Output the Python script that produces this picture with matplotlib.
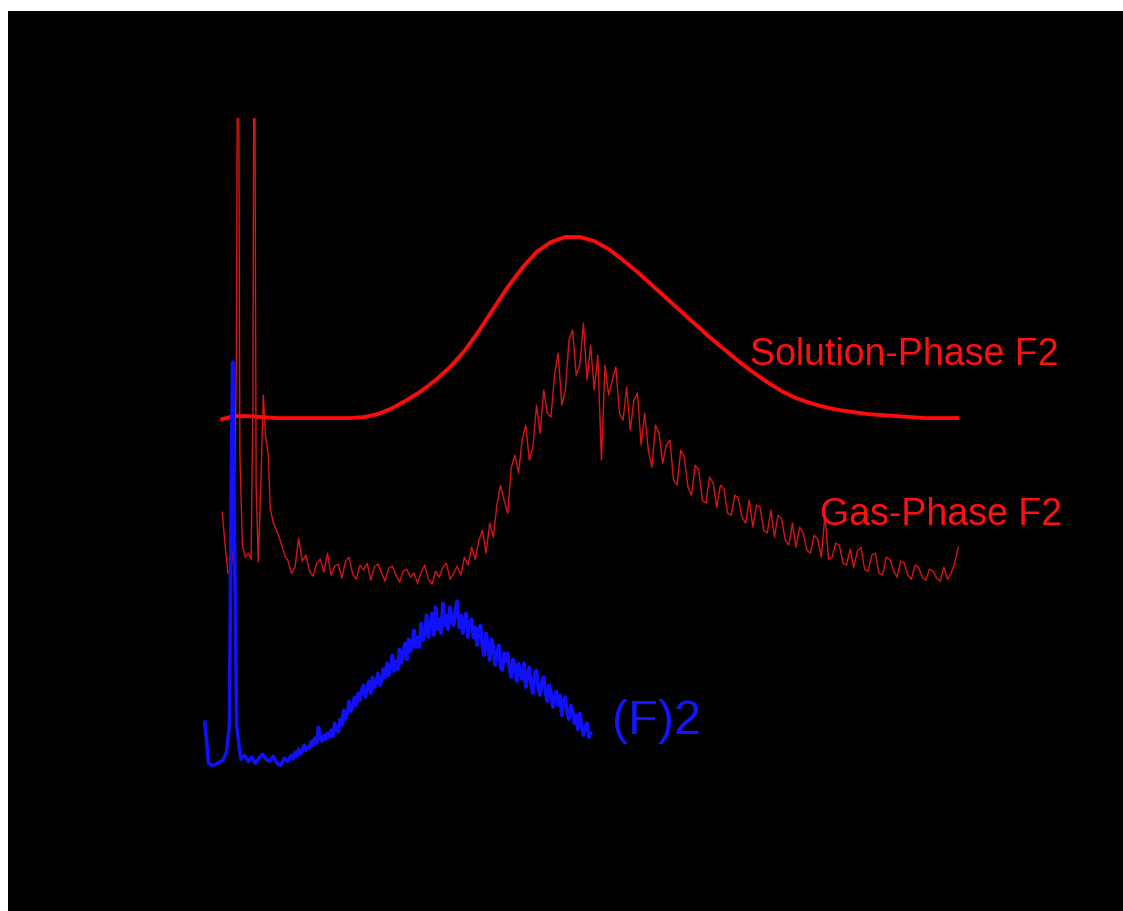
import numpy as np
import matplotlib
matplotlib.use("Agg")
import matplotlib.pyplot as plt
from matplotlib.patches import Rectangle

plt.rcParams['font.family'] = ['Liberation Sans', 'DejaVu Sans']

# ------------------------------------------------------------------------------------- #
# data (intensity in arbitrary units)
sol_nm = [300.8, 304, 308, 312, 316, 320, 324, 328, 332, 336, 340, 344, 348, 352, 356,
          360, 364, 368, 372, 376, 380, 384, 388, 392, 396, 400, 404, 408, 412, 416,
          420, 424, 428, 432, 436, 440, 444, 448, 452, 456, 460, 464, 468, 472, 476,
          480, 484, 488, 492, 496, 500, 504.7]
sol_int = [366, 369, 369, 368, 367, 367, 367, 367, 367, 367, 368, 371, 377, 385, 394,
           405, 418, 434, 454, 476, 498, 517, 533, 543, 548, 548, 544, 536, 525, 513,
           500, 487, 474, 461, 448, 436, 424, 413, 403, 394, 387, 382, 378, 375, 373,
           371, 370, 369, 368, 367, 367, 367]

gas_nm_start = [300.8, 301.6, 302.4, 303.2, 304.0, 304.7, 305.2, 305.7, 306.4, 307.2,
                308.0, 308.8, 309.3, 309.7, 310.2, 310.8, 311.5, 312.2, 312.8, 313.6,
                314.1, 315.0, 316.3, 317.5, 318.3]
gas_int_start = [273, 240, 212, 215, 240, 420, 900, 330, 240, 228,
                 232, 226, 380, 900, 300, 223, 300, 390, 350, 329,
                 277, 262, 251, 238, 228]
gas_nm_rest = np.arange(319, 506)
gas_int_rest = [225, 212, 218, 247, 224, 230, 214, 209, 222, 226,
                213, 232, 210, 219, 221, 207, 224, 228, 211, 206,
                220, 215, 222, 205, 218, 221, 212, 204, 217, 219,
                210, 203, 214, 216, 208, 212, 202, 213, 220, 206,
                201, 214, 208, 218, 222, 206, 212, 219, 210, 228,
                220, 238,
                226, 245, 255, 232, 262, 248, 280, 300, 285, 272,
                318, 330, 312, 345, 360, 325, 338, 380, 352, 395,
                372, 368, 410, 432, 380, 395, 445, 455, 410, 420,
                462, 405, 440, 395,
                430, 325, 420, 390, 405, 418, 372, 365, 398, 355,
                385, 392, 340, 372, 335, 318, 360, 352, 322, 340,
                345, 305, 300, 335, 328, 298, 290, 320, 315, 285,
                282, 308, 302, 278, 300, 296, 272, 270, 290, 287,
                268, 262, 285, 258, 280, 278, 255, 252, 275, 248,
                270, 266, 245, 240, 262, 238, 258, 252, 235, 232,
                250, 246, 228, 270, 226, 228, 242, 240, 222, 220,
                236, 218, 234, 238, 216, 214, 230, 232, 212, 210,
                228, 226, 215, 208, 224, 222, 210, 206, 220, 218,
                208, 205, 216, 214, 207, 204, 218, 206, 212, 222,
                238]

blue_nm_start = [296, 297, 298, 299, 300, 301, 302, 302.8, 303.3, 303.7, 304.2, 304.8,
                 305.5, 306]
blue_int_start = [63, 22, 20, 21, 23, 25, 33, 60, 300, 423, 250, 60, 38, 26]
blue_nm_mid = np.arange(307, 320)
blue_int_mid = [30, 24, 28, 22, 27, 31, 26, 24, 29, 22, 20, 27, 24]
blue_nm_rest = np.arange(320, 403.5, 0.5)
blue_int_rest = [30, 26, 33, 29, 36, 31, 34, 40, 35, 38,
                 37, 44, 40, 47, 42, 58, 47, 44, 50, 46,
                 52, 48, 55, 49, 62, 57, 53, 66, 60, 75,
                 66, 72, 84, 74, 78, 88, 80, 92, 85, 95,
                 100, 88, 96, 104, 92, 108, 98, 102, 112, 100,
                 104, 116, 108, 122, 110, 118, 130, 114, 124, 116,
                 136, 122, 130, 142, 126, 146, 134, 140, 155, 138,
                 148, 138, 162, 145, 152, 170, 148, 160, 172, 150,
                 178, 156, 166, 152, 182, 160, 170, 156, 178, 164,
                 160, 176, 184, 158, 170, 152, 166, 172, 148, 162,
                 166, 148, 158, 140, 156, 160, 138, 130, 152, 140,
                 125, 146, 138, 120, 132, 140, 118, 115, 132, 124,
                 132, 116, 108, 126, 118, 104, 122, 112, 106, 122,
                 98, 110, 118, 100, 92, 112, 115, 96, 90, 104,
                 108, 92, 84, 100, 94, 78, 88, 94, 80, 90,
                 70, 84, 88, 72, 66, 80, 74, 62, 70, 56,
                 72, 60, 50, 58, 62, 48,
                 52]

x_ticks = [280, 300, 320, 340, 360, 380, 400, 420, 440, 460, 480, 500, 520]

# ------------------------------------------------------------------------------------- #
gas_nm = np.concatenate([gas_nm_start, gas_nm_rest])
gas_int = np.concatenate([gas_int_start, gas_int_rest])
blue_nm = np.concatenate([blue_nm_start, blue_nm_mid, blue_nm_rest])
blue_int = np.concatenate([blue_int_start, blue_int_mid, blue_int_rest])

fig = plt.figure(figsize=(11.23, 9.11), dpi=100)
fig.patch.set_facecolor('white')
# black page with thin white border on top and left
fig.add_artist(Rectangle((8 / 1123, 0), 1, (911 - 11) / 911,
                         transform=fig.transFigure, facecolor='black',
                         edgecolor='none', zorder=-1))

ax = fig.add_axes([0.1247, 0.138, 0.788, 0.7336])
ax.set_facecolor('black')

ax.plot(sol_nm, sol_int, color='#ff0a0a', linewidth=2.8, zorder=3)
ax.plot(gas_nm, gas_int, color='#d81414', linewidth=1.0, zorder=2)
ax.plot(blue_nm, blue_int, color='#1010ff', linewidth=2.6, zorder=4)

ax.text(447.3, 430, 'Solution-Phase F2', color='#ff1010', fontsize=27,
        ha='left', va='center')
ax.text(466.7, 270, 'Gas-Phase F2', color='#ff1010', fontsize=27,
        ha='left', va='center')
ax.text(409, 64, '(F)2', color='#1414ff', fontsize=35, ha='left', va='center')

ax.set_xlim(278, 523.5)
ax.set_ylim(0, 668)
ax.set_xticks(x_ticks)
ax.set_yticks([])
ax.tick_params(axis='x', colors='black', labelsize=21, length=0, pad=6)
ax.set_xlabel('Wavelength (nm)', fontsize=21, color='black', labelpad=14)
ax.set_ylabel('Intensity (a.u.)', fontsize=21, color='black', labelpad=14)
for spine in ax.spines.values():
    spine.set_color('black')

plt.savefig('out.png', dpi=100, facecolor=fig.get_facecolor())
plt.close()
